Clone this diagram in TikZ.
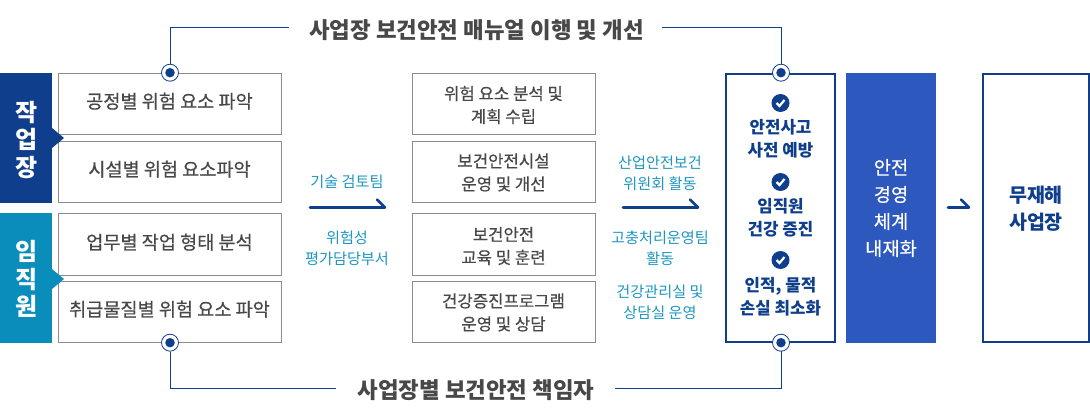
\documentclass[tikz,border=0pt]{standalone}
\usepackage{fontspec}
\setmainfont{Noto Sans CJK KR}
\newfontfamily\mediumface[FakeBold=0.4]{Noto Sans CJK KR}
\usepackage{tikz}
\usetikzlibrary{positioning, arrows.meta}
\definecolor{navy}{HTML}{0F3F8C}
\definecolor{teal1}{HTML}{0A8DBB}
\definecolor{royal}{HTML}{2D59BF}
\definecolor{ink}{HTML}{484848}
\definecolor{frame}{HTML}{8C8C8C}
\definecolor{tealtext}{HTML}{1E96C0}
\tikzset{
    base/.style={align=center, inner sep=0pt, outer sep=0pt},
    leftbox/.style={base, draw=frame, line width=0.9pt, fill=white, text=ink, minimum width=223pt, font=\mediumface\fontsize{18.6}{26}\selectfont, execute at begin node={\rule[-6pt]{0pt}{6pt}}},
    midbox/.style={base, draw=frame, line width=0.9pt, fill=white, minimum width=183pt},
    midtext/.style={base, text=ink, font=\mediumface\fontsize{16.7}{23}\selectfont},
    tabbox/.style={base, minimum width=52pt, minimum height=130pt},
    tabtext/.style={base, text=white, font=\bfseries\fontsize{24}{27.5}\selectfont},
    framebox/.style={base, draw=navy, line width=2.2pt, fill=white, minimum height=268pt},
    goal/.style={base, text=navy, font=\bfseries\fontsize{16.8}{23}\selectfont},
    team/.style={base, text=tealtext, font=\fontsize{15.2}{21}\selectfont},
    headline/.style={base, text=ink, font=\bfseries\fontsize{22.4}{26}\selectfont},
    line/.style={draw=navy, line width=1pt},
    harpoon/.style={draw=navy, line width=2.6pt, line join=round, line cap=round},
    ring/.style={circle, draw=navy, fill=white, line width=0.8pt, minimum size=17pt, inner sep=0pt},
    dot/.style={circle, fill=navy, minimum size=9.5pt, inner sep=0pt},
    tick/.style={circle, fill=navy, minimum size=18pt, inner sep=0pt}
}
\begin{document}
\begin{tikzpicture}[x=1pt, y=-1pt]
    \useasboundingbox (0,0) rectangle (1090,417);

    % Left tabs
    \node[tabbox, fill=navy] (tabwork) at (26,138) {};
    \node[tabbox, fill=teal1] (tabstaff) at (26,278) {};
    \node[tabtext] (tabworktext) at (26.5,140) {작\\업\\장};
    \node[tabtext] (tabstafftext) at (26.5,279) {임\\직\\원};

    % Left column
    \node[leftbox, minimum height=61pt] (risk1) at (169.5,103.5) {공정별 위험 요소 파악};
    \node[leftbox, minimum height=61pt] (risk2) at (169.5,171.5) {시설별 위험 요소파악};
    \node[leftbox, minimum height=62pt] (risk3) at (169.5,244.5) {업무별 작업 형태 분석};
    \node[leftbox, minimum height=61pt] (risk4) at (169.5,311.5) {취급물질별 위험 요소 파악};
    \fill[navy] (52,128) -- (64,138) -- (52,148) -- cycle;
    \fill[teal1] (52,269) -- (64,279) -- (52,289) -- cycle;

    % Middle column
    \node[midbox, minimum height=61pt] (plan1) at (503.5,103.5) {};
    \node[midbox, minimum height=61pt] (plan2) at (503.5,171.5) {};
    \node[midbox, minimum height=62pt] (plan3) at (503.5,244.5) {};
    \node[midbox, minimum height=61pt] (plan4) at (503.5,311.5) {};
    \node[midtext] (plan1text) at (503.5,105) {위험 요소 분석 및\\계획 수립};
    \node[midtext] (plan2text) at (503.5,172.5) {보건안전시설\\운영 및 개선};
    \node[midtext] (plan3text) at (503.5,246) {보건안전\\교육 및 훈련};
    \node[midtext] (plan4text) at (503.5,312.5) {건강증진프로그램\\운영 및 상담};

    % Right column
    \node[framebox, minimum width=109pt] (result) at (780.5,208) {};
    \node[base, fill=royal, text=white, minimum width=90pt, minimum height=270pt, font=\mediumface\fontsize{18.7}{27}\selectfont] (system) at (891,208) {안전\\경영\\체계\\내재화};
    \node[framebox, minimum width=106pt] (zero) at (1036,208) {};
    \node[base, text=navy, font=\bfseries\fontsize{19.5}{27}\selectfont] (zerotext) at (1036,209) {무재해\\사업장};

    % Goals in the result box
    \node[tick] (tick1) at (780.5,103) {};
    \node[goal, below=7.5pt of tick1] (goal1) {안전사고\\사전 예방};
    \node[tick] (tick2) at (780.5,182) {};
    \node[goal, below=7.5pt of tick2] (goal2) {임직원\\건강 증진};
    \node[tick] (tick3) at (780.5,260) {};
    \node[goal, below=8.5pt of tick3] (goal3) {인적, 물적\\손실 최소화};
    \foreach \t in {tick1, tick2, tick3}
        \draw[white, line width=2.2pt] ([shift={(-4,0)}]\t.center) -- ([shift={(-1,3)}]\t.center) -- ([shift={(4,-3)}]\t.center);

    % Headlines
    \node[headline] (topline) at (476.5,30.5) {사업장 보건안전 매뉴얼 이행 및 개선};
    \node[headline] (botline) at (476,390.5) {사업장별 보건안전 책임자};

    % Rings
    \node[ring] (ringa) at (170,72.7) {};
    \node[ring] (ringb) at (781,72.7) {};
    \node[ring] (ringc) at (170,342.7) {};
    \node[ring] (ringd) at (781,342.7) {};
    \foreach \r in {ringa, ringb, ringc, ringd}
        \node[dot] at (\r) {};

    % Connectors
    \coordinate (topl) at (289,28);
    \coordinate (topr) at (662,28);
    \coordinate (botl) at (336,388.5);
    \coordinate (botr) at (615,388.5);
    \draw[line] (ringa.north -| 170.5,0) |- (topl);
    \draw[line] (ringb) ++(0,-8.5) |- (topr);
    \draw[line] (ringc.south -| 170.5,0) |- (botl);
    \draw[line] (ringd) ++(0,8.5) |- (botr);

    % Teams and flow arrows
    \node[team] (team1) at (347,182) {기술 검토팀};
    \node[team] (team2) at (347,248) {위험성\\평가담당부서};
    \node[team] (team3) at (660,173) {산업안전보건\\위원회 활동};
    \node[team] (team4) at (660,248) {고충처리운영팀\\활동};
    \node[team] (team5) at (660,302) {건강관리실 및\\상담실 운영};
    \coordinate (flowa) at (310,207.5);
    \coordinate (flowb) at (385,207.5);
    \coordinate (flowc) at (623,207.5);
    \coordinate (flowd) at (698,207.5);
    \coordinate (flowe) at (948,207.5);
    \coordinate (flowf) at (969,207.5);
    \draw[harpoon] (flowa) -- (flowb) -- ++(-8,-8);
    \draw[harpoon] (flowc) -- (flowd) -- ++(-8,-8);
    \draw[harpoon] (flowe) -- (flowf) -- ++(-8,-8);
\end{tikzpicture}
\end{document}
